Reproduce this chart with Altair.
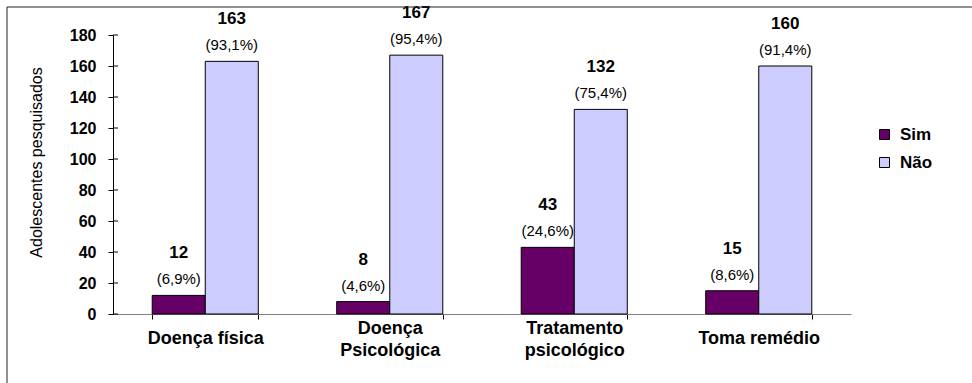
import altair as alt
import pandas as pd

categorias = ["Doença física", "Doença|Psicológica", "Tratamento|psicológico", "Toma remédio"]
sim = [12, 8, 43, 15]
nao = [163, 167, 132, 160]
sim_pct = ["(6,9%)", "(4,6%)", "(24,6%)", "(8,6%)"]
nao_pct = ["(93,1%)", "(95,4%)", "(75,4%)", "(91,4%)"]
series = ["Sim", "Não"]
cores = ["#660066", "#CCCCFF"]
y_ticks = [0, 20, 40, 60, 80, 100, 120, 140, 160, 180]

rows = []
for i, c in enumerate(categorias):
    rows.append({"cat": c, "serie": "Sim", "valor": sim[i], "pct": sim_pct[i]})
    rows.append({"cat": c, "serie": "Não", "valor": nao[i], "pct": nao_pct[i]})
df = pd.DataFrame(rows)

FONT = "Liberation Sans"
W, H = 738, 279

x_enc = alt.X(
    "cat:N",
    sort=categorias,
    scale=alt.Scale(paddingInner=0.425, paddingOuter=0.2125),
    axis=alt.Axis(
        title=None,
        labelExpr="split(datum.label, '|')",
        labelFont=FONT, labelFontSize=18, labelFontWeight="bold", labelColor="black",
        labelAngle=0, labelBaseline="middle", labelLineHeight=22,
        labelPadding={"condition": {"test": "indexof(datum.label, '|') >= 0", "value": 9},
                      "value": 19},
        domainColor="#808080", tickColor="black", tickSize=5, tickBand="extent",
    ),
)
xo_enc = alt.XOffset("serie:N", sort=series)
y_enc = alt.Y(
    "valor:Q",
    scale=alt.Scale(domain=[0, 180], nice=False),
    axis=alt.Axis(
        title="Adolescentes pesquisados",
        values=y_ticks, grid=False, labelOverlap=False, labelBound=False,
        labelFont=FONT, labelFontSize=16, labelFontWeight="bold", labelColor="black",
        labelPadding=12, tickSize=5, tickColor="black", domainColor="black",
        titleFont=FONT, titleFontSize=16, titleFontWeight="normal", titleColor="black",
        titleAngle=270, titleX=-77, titleY=127, titleAlign="center", titleBaseline="middle",
    ),
)

base = alt.Chart(df)

bars = base.mark_bar(stroke="black", strokeWidth=1).encode(
    x=x_enc,
    xOffset=xo_enc,
    y=y_enc,
    color=alt.Color(
        "serie:N", sort=series,
        scale=alt.Scale(domain=series, range=cores),
        legend=alt.Legend(
            title=None, orient="none", legendX=763, legendY=91,
            symbolType="square", symbolSize=100, symbolStrokeColor="black", symbolStrokeWidth=1,
            labelFont=FONT, labelFontSize=17, labelFontWeight="bold", labelColor="black",
            labelOffset=7, rowPadding=10, padding=0,
        ),
    ),
)

counts = base.mark_text(font=FONT, fontSize=17, fontWeight="bold", color="black",
                        baseline="middle", dy=-42).encode(
    x=x_enc,
    xOffset=xo_enc,
    y=y_enc,
    text=alt.Text("valor:Q"),
)
pcts = base.mark_text(font=FONT, fontSize=15, color="black",
                      baseline="middle", dy=-16).encode(
    x=x_enc,
    xOffset=xo_enc,
    y=y_enc,
    text=alt.Text("pct:N"),
)

tick_df = pd.DataFrame({"valor": y_ticks})
inner_ticks = alt.Chart(tick_df).mark_rule(color="black", strokeWidth=1).encode(
    y=y_enc,
    x=alt.value(0),
    x2=alt.value(5),
)

frame_df = pd.DataFrame({"k": [0]})
frame_left = alt.Chart(frame_df).mark_rule(color="#222222", strokeWidth=1).encode(
    x=alt.value(-106), y=alt.value(-28), y2=alt.value(400)
)
frame_top = alt.Chart(frame_df).mark_rule(color="#222222", strokeWidth=1).encode(
    x=alt.value(-106), x2=alt.value(900), y=alt.value(-28)
)

chart = alt.layer(bars, counts, pcts, inner_ticks, frame_left, frame_top).properties(
    width=W, height=H,
    autosize=alt.AutoSizeParams(type="none"),
    padding={"left": 113, "top": 35, "right": 121, "bottom": 69},
    background="white",
).configure_view(stroke=None).configure_axisY(labelOverlap=False)

chart.save("out.html", embed_options={"renderer": "svg", "actions": False})
